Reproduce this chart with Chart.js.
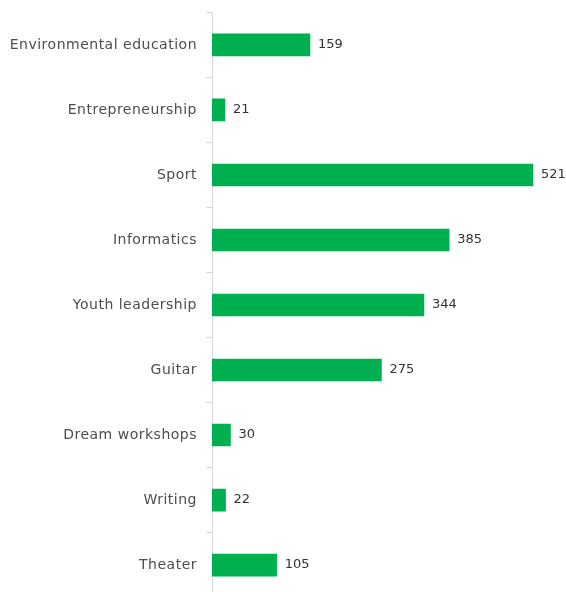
<!DOCTYPE html>
<html><head><meta charset="utf-8">
<script src="https://cdn.jsdelivr.net/npm/chart.js@4"></script>
<style>html,body{margin:0;padding:0;background:#fff;overflow:hidden;width:566px;height:592px}#wrap{width:566px;height:620px;position:relative;margin-top:-5px}</style>
</head><body><div id="wrap"><canvas id="c" width="566" height="620"></canvas></div>
<script>
const categories = ["Environmental education","Entrepreneurship","Sport","Informatics","Youth leadership","Guitar","Dream workshops","Writing","Theater"];
const values = [159,21,521,385,344,275,30,22,105];

const FONT = '"DejaVu Sans", sans-serif';
const spacing = {
  id:'spacing',
  beforeDraw(chart){ chart.ctx.letterSpacing = '0.5px'; }
};
const valueLabels = {
  id:'valueLabels',
  afterDatasetsDraw(chart){
    const ctx = chart.ctx;
    const meta = chart.getDatasetMeta(0);
    ctx.save();
    ctx.letterSpacing = '0px';
    ctx.font = '13px ' + FONT;
    ctx.fillStyle = '#333333';
    ctx.textAlign = 'left';
    ctx.textBaseline = 'middle';
    meta.data.forEach((bar,i)=>{
      ctx.fillText(String(values[i]), bar.x + 8, bar.y);
    });
    ctx.restore();
  }
};

new Chart(document.getElementById('c'), {
  type:'bar',
  data:{labels:categories, datasets:[{data:values, backgroundColor:'#00B050', barThickness:22, borderWidth:0}]},
  options:{
    indexAxis:'y',
    responsive:false,
    animation:false,
    layout:{padding:{top:6,bottom:10,right:9,left:0}},
    plugins:{legend:{display:false},tooltip:{enabled:false}},
    scales:{
      x:{display:false,min:0,max:560},
      y:{
        afterFit(s){ s.width = 212; },
        grid:{drawOnChartArea:false, drawTicks:true, tickLength:6, color:'#d9d9d9', offset:true},
        border:{display:true,color:'#d9d9d9',width:1},
        ticks:{padding:9, color:'#4d4d4d', font:{family:FONT, size:14}}
      }
    }
  },
  plugins:[spacing, valueLabels]
});
</script></body></html>
